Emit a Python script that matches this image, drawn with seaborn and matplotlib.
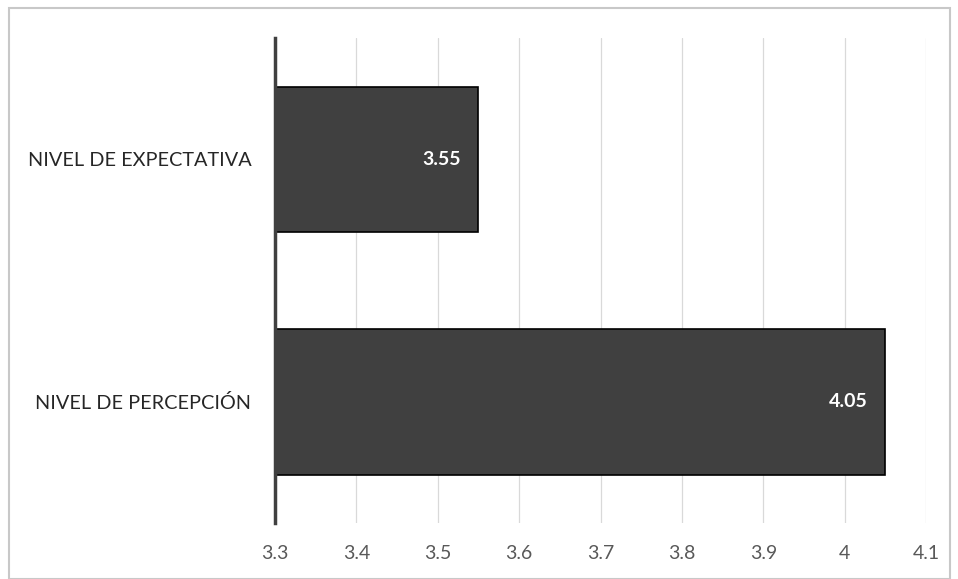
import matplotlib
matplotlib.use("Agg")
import matplotlib.pyplot as plt
import seaborn as sns
import pandas as pd
from matplotlib.patches import Rectangle

categories = ["NIVEL DE EXPECTATIVA", "NIVEL DE PERCEPCIÓN"]
values = [3.55, 4.05]
x_ticks = [3.3, 3.4, 3.5, 3.6, 3.7, 3.8, 3.9, 4.0, 4.1]
x_tick_labels = ["3.3", "3.4", "3.5", "3.6", "3.7", "3.8", "3.9", "4", "4.1"]

sns.set_style("white")
plt.rcParams['font.family'] = ['Lato', 'DejaVu Sans']

df = pd.DataFrame({"categoria": categories, "valor": values})

fig = plt.figure(figsize=(9.58, 5.79), dpi=100)
ax = fig.add_axes([0.287, 0.0967, 0.6797, 0.8373])

# bars start at the axis minimum (3.3), so plot the offset from there
df["largo"] = df["valor"] - 3.3
sns.barplot(data=df, y="categoria", x="largo", left=3.3, color="#404040",
            saturation=1, edgecolor="black", linewidth=1.2, width=0.6,
            orient="h", ax=ax, zorder=3)

ax.set_xlim(3.3, 4.1)
ax.set_ylim(1.5, -0.5)
ax.set_xticks(x_ticks)
ax.set_xticklabels(x_tick_labels)
ax.grid(True, axis="x", color="#d9d9d9", linewidth=0.9, zorder=0)
ax.set_axisbelow(True)

for s in ["top", "right", "bottom"]:
    ax.spines[s].set_visible(False)
ax.spines["left"].set_color("#404040")
ax.spines["left"].set_linewidth(2.5)
ax.spines["left"].set_zorder(4)

ax.tick_params(axis="x", length=0, pad=16, labelsize=14, labelcolor="#595959")
ax.tick_params(axis="y", length=0, pad=17, labelsize=14.3, labelcolor="#262626")
ax.set_xlabel("")
ax.set_ylabel("")

for i, v in enumerate(values):
    ax.text(v - 0.022, i, f"{v:.2f}", ha="right", va="center", color="white",
            fontsize=14, fontweight="bold", zorder=5)

fig.patches.append(Rectangle((0.0094, 0.0), 0.9823, 0.986, transform=fig.transFigure,
                             fill=False, edgecolor="#c8c8c8", linewidth=1.5))

fig.savefig("out.png", dpi=100)
